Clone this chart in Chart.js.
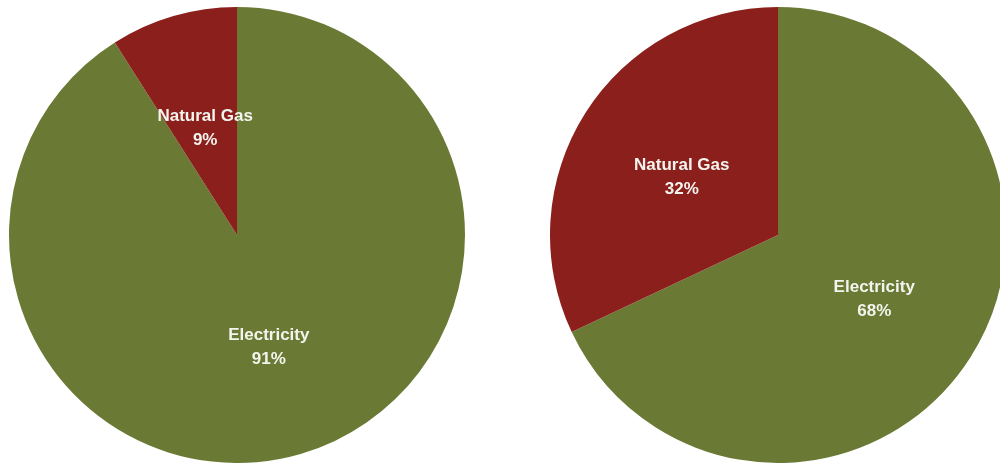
<!DOCTYPE html>
<html>
<head>
<meta charset="utf-8">
<script src="https://cdn.jsdelivr.net/npm/chart.js@4"></script>
<style>
  html, body { margin: 0; padding: 0; background: #fff; overflow: hidden; }
  body { width: 1000px; height: 467px; position: relative; }
  .pie { position: absolute; top: 7px; width: 456px; height: 456px; }
  #pieLeft { left: 9px; }
  #pieRight { left: 550px; }
</style>
</head>
<body>
<div class="pie" id="pieLeft"><canvas id="chartLeft" width="456" height="456"></canvas></div>
<div class="pie" id="pieRight"><canvas id="chartRight" width="456" height="456"></canvas></div>
<script>
const categories = ['Electricity', 'Natural Gas'];
const leftShares = [91, 9];
const rightShares = [68, 32];
const sliceColors = ['#6a7a35', '#8b1f1c'];

// name + percent written at the middle of each slice, half way out
const sliceLabels = {
    id: 'sliceLabels',
    afterDatasetsDraw(chart) {
        const ctx = chart.ctx;
        const values = chart.data.datasets[0].data;
        ctx.save();
        ctx.fillStyle = '#f4f4ee';
        ctx.font = 'bold 17px "Liberation Sans", Arial, sans-serif';
        ctx.textAlign = 'center';
        ctx.textBaseline = 'middle';
        chart.getDatasetMeta(0).data.forEach((arc, i) => {
            const pos = arc.tooltipPosition();
            const y = pos.y + 3;
            ctx.fillText(chart.data.labels[i], pos.x, y - 12);
            ctx.fillText(values[i] + '%', pos.x, y + 12);
        });
        ctx.restore();
    }
};

const makePie = (canvasId, shares) => {
    new Chart(document.getElementById(canvasId), {
        type: 'pie',
        data: {
            labels: categories,
            datasets: [{
                data: shares,
                backgroundColor: sliceColors,
                borderWidth: 0
            }]
        },
        options: {
            responsive: false,
            animation: false,
            layout: { padding: 0 },
            plugins: {
                legend: { display: false },
                tooltip: { enabled: false }
            }
        },
        plugins: [sliceLabels]
    });
};

makePie('chartLeft', leftShares);
makePie('chartRight', rightShares);
</script>
</body>
</html>
